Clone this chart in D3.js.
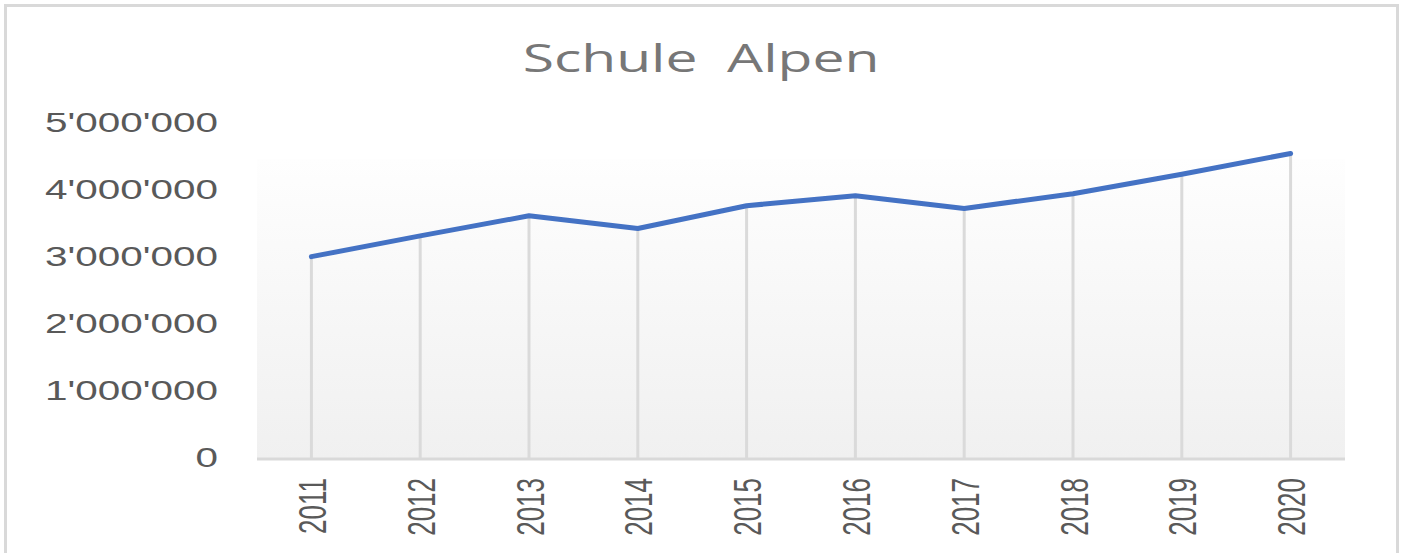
<!DOCTYPE html>
<html>
<head>
<meta charset="utf-8">
<script src="https://cdn.jsdelivr.net/npm/d3@7"></script>
<style>
  body { margin: 0; background: #fff; }
  svg { display: block; }
</style>
</head>
<body>
<div id="chart"></div>
<script>
var title = 'Schule  Alpen';
var years = ['2011', '2012', '2013', '2014', '2015', '2016', '2017', '2018', '2019', '2020'];
var values = [3020000, 3330000, 3630000, 3440000, 3780000, 3930000, 3740000, 3960000, 4250000, 4560000];
var yTicks = [0, 1000000, 2000000, 3000000, 4000000, 5000000];

var width = 1405;
var height = 553;
var stretch = 1.5; // the reference is squeezed wider than normal

var plot = { left: 257, right: 1345, top: 159, bottom: 459 };

var svg = d3.select('#chart').append('svg')
  .attr('width', width)
  .attr('height', height);

var defs = svg.append('defs');
var grad = defs.append('linearGradient')
  .attr('id', 'bg')
  .attr('x1', 0).attr('y1', 0)
  .attr('x2', 0).attr('y2', 1);
grad.append('stop').attr('offset', '0%').attr('stop-color', '#fefefe');
grad.append('stop').attr('offset', '100%').attr('stop-color', '#f0f0f0');

// chart border
svg.append('rect')
  .attr('x', 5.5).attr('y', 5.5)
  .attr('width', 1392).attr('height', 560)
  .attr('fill', '#fff')
  .attr('stroke', '#d9d9d9')
  .attr('stroke-width', 3);

// title
svg.append('text')
  .attr('transform', 'translate(701,72) scale(' + stretch + ',1)')
  .attr('text-anchor', 'middle')
  .style('white-space', 'pre')
  .attr('font-family', '"Open Sans", sans-serif')
  .attr('font-size', 38)
  .attr('fill', '#777777')
  .text(title);

var x = d3.scalePoint()
  .domain(years)
  .range([plot.left, plot.right])
  .padding(0.5);

var y = d3.scaleLinear()
  .domain([0, 5000000])
  .range([plot.bottom, 124]);

// plot area fill
svg.append('rect')
  .attr('x', plot.left)
  .attr('y', plot.top)
  .attr('width', plot.right - plot.left)
  .attr('height', plot.bottom - plot.top)
  .attr('fill', 'url(#bg)');

// drop lines
svg.selectAll('line.drop').data(years)
  .enter().append('line')
  .attr('class', 'drop')
  .attr('x1', function(d){ return x(d); })
  .attr('x2', function(d){ return x(d); })
  .attr('y1', function(d, i){ return y(values[i]); })
  .attr('y2', y(0))
  .attr('stroke', '#dadada')
  .attr('stroke-width', 3);

// x axis
var xAxis = svg.append('g')
  .attr('transform', 'translate(0,' + y(0) + ')')
  .call(d3.axisBottom(x).tickSize(0));
xAxis.select('.domain')
  .attr('d', 'M' + plot.left + ',0H' + plot.right)
  .attr('stroke', '#d9d9d9')
  .attr('stroke-width', 3);
xAxis.selectAll('text')
  .attr('x', -19)
  .attr('y', 0)
  .attr('dy', '0.36em')
  .attr('text-anchor', 'end')
  .attr('transform', 'scale(' + stretch + ',1) rotate(-90)')
  .attr('font-family', '"Liberation Sans", Arial, sans-serif')
  .attr('font-size', 26)
  .attr('fill', '#595959');

// y axis labels
var fmt = d3.formatLocale({ decimal: '.', thousands: "'", grouping: [3], currency: ['', ''] }).format(',');
var yAxis = svg.append('g')
  .attr('transform', 'translate(218,0)')
  .call(d3.axisLeft(y).tickValues(yTicks).tickFormat(fmt).tickSize(0));
yAxis.select('.domain').remove();
yAxis.selectAll('text')
  .attr('x', 0)
  .attr('dy', '0.28em')
  .attr('text-anchor', 'end')
  .attr('transform', 'scale(' + stretch + ',1)')
  .attr('font-family', '"Liberation Sans", Arial, sans-serif')
  .attr('font-size', 27)
  .attr('fill', '#595959');

// series line
var line = d3.line()
  .x(function(d, i){ return x(years[i]); })
  .y(function(d){ return y(d); });

svg.append('path')
  .datum(values)
  .attr('d', line)
  .attr('fill', 'none')
  .attr('stroke', '#4472c4')
  .attr('stroke-width', 5)
  .attr('stroke-linejoin', 'round')
  .attr('stroke-linecap', 'round');
</script>
</body>
</html>
